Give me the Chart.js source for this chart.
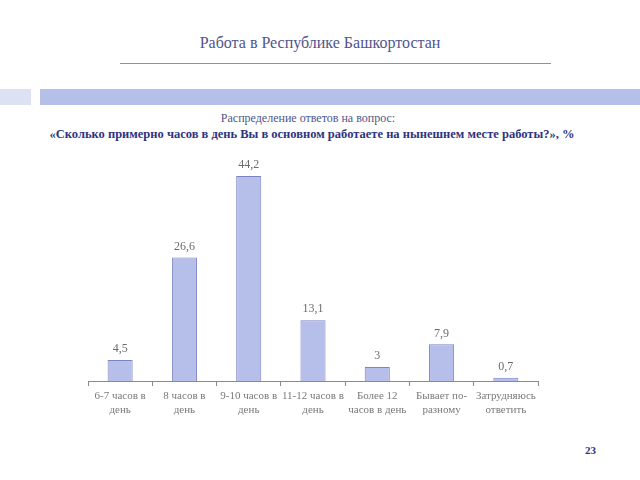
<!DOCTYPE html>
<html>
<head>
<meta charset="utf-8">
<script src="https://cdn.jsdelivr.net/npm/chart.js@4"></script>
<style>
  body { margin: 0; background: #fff; }
  #wrap { position: relative; width: 640px; height: 480px; overflow: hidden; font-family: 'Liberation Serif', 'Times New Roman', 'DejaVu Serif', serif; }
  #wrap canvas { position: absolute; left: 0; top: 0; }
  .abs { position: absolute; white-space: nowrap; }
</style>
</head>
<body>
<div id="wrap">
  <div class="abs" style="left:0;width:640px;top:34px;text-align:center;font-size:16px;color:#50558a;">Работа в Республике Башкортостан</div>
  <div class="abs" style="left:120px;width:431px;top:63px;height:1px;background:#8c8fae;"></div>
  <div class="abs" style="left:0;width:31px;top:89px;height:16px;background:#dde1f4;"></div>
  <div class="abs" style="left:40px;width:600px;top:89px;height:16px;background:#b6bfe8;"></div>
  <div class="abs" style="left:0;width:616px;top:111px;text-align:center;font-size:12px;color:#50558a;">Распределение ответов на вопрос:</div>
  <div class="abs" style="left:0;width:624px;top:127px;text-align:center;font-size:12.5px;font-weight:bold;color:#2e3380;">«Сколько примерно часов в день Вы в основном работаете на нынешнем месте работы?», %</div>
  <div class="abs" style="left:585px;top:444px;font-size:11px;font-weight:bold;color:#2e3380;">23</div>
  <canvas id="chart" width="640" height="480"></canvas>
</div>
<script>
// answer categories and shares, %
const categories = [
  ['6-7 часов в', 'день'],
  ['8 часов в', 'день'],
  ['9-10 часов в', 'день'],
  ['11-12 часов в', 'день'],
  ['Более 12', 'часов в день'],
  ['Бывает по-', 'разному'],
  ['Затрудняюсь', 'ответить']
];
const shares = [4.5, 26.6, 44.2, 13.1, 3, 7.9, 0.7];

const serif = "'Liberation Serif', 'Times New Roman', 'DejaVu Serif', serif";

// values above the bars, with a decimal comma
const valueLabels = {
  id: 'valueLabels',
  afterDatasetsDraw(chart) {
    const ctx = chart.ctx;
    const meta = chart.getDatasetMeta(0);
    ctx.save();
    ctx.font = '12px ' + serif;
    ctx.fillStyle = '#6b6b6b';
    ctx.textAlign = 'center';
    ctx.textBaseline = 'bottom';
    meta.data.forEach((bar, i) => {
      ctx.fillText(String(shares[i]).replace('.', ','), bar.x, bar.y - 5);
    });
    ctx.restore();
  }
};

new Chart(document.getElementById('chart'), {
  type: 'bar',
  plugins: [valueLabels],
  data: {
    labels: categories,
    datasets: [{
      data: shares,
      backgroundColor: '#b6bfea',
      borderColor: '#7c85c2',
      borderWidth: 1,
      categoryPercentage: 1,
      barPercentage: 0.39
    }]
  },
  options: {
    responsive: false,
    animation: false,
    layout: { padding: { left: 88, right: 102, top: 149, bottom: 49 } },
    plugins: { legend: { display: false }, tooltip: { enabled: false } },
    scales: {
      x: {
        afterFit: (s) => { s.height = 50; },
        grid: { offset: true, drawOnChartArea: false, tickLength: 5, color: '#8a8a8a' },
        border: { color: '#8a8a8a' },
        ticks: { color: '#7a7a7a', font: { family: serif, size: 11 }, maxRotation: 0, autoSkip: false, padding: 4 }
      },
      y: { display: false, min: 0, max: 50 }
    }
  }
});
</script>
</body>
</html>
